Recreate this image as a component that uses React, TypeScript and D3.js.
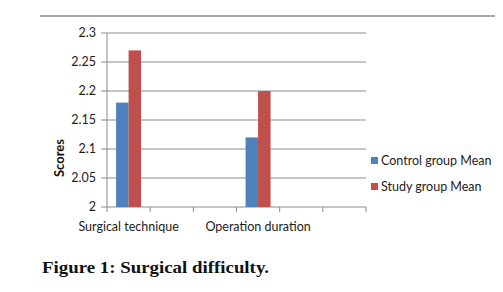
import React from "react";
import * as d3 from "d3";

const categories = ["Surgical technique", "c2", "c3", "Operation duration", "c5", "c6"];
const shownLabels = ["Surgical technique", "Operation duration"];
const seriesNames = ["Control group Mean", "Study group Mean"];
const controlValues = [2.18, null, null, 2.12, null, null];
const studyValues = [2.27, null, null, 2.2, null, null];
const yTicks = [2, 2.05, 2.1, 2.15, 2.2, 2.25, 2.3];
const colors = ["#4F81BD", "#C0504D"];

export default function App() {
  const W = 503, H = 292;
  const left = 107, right = 366, top = 33, bottom = 207;
  const x = d3.scaleBand<string>().domain(categories).range([left, right]).paddingInner(0).paddingOuter(0);
  const y = d3.scaleLinear().domain([2, 2.3]).range([bottom, top]);
  const barW = 12.5;
  const series = [controlValues, studyValues];
  const font = "Lato, 'Open Sans', sans-serif";
  const edges = categories.map((c) => x(c) as number).concat([right]);

  return (
    <svg width={W} height={H} style={{ position: "absolute", left: 0, top: 0, background: "#fff" }}>
      <line x1={40} x2={495} y1={16} y2={16} stroke="#8a8a8a" strokeWidth={1.5} />
      {yTicks.map((t) => (
        <g key={t}>
          <line x1={left} x2={right} y1={y(t)} y2={y(t)} stroke="#8c8c8c" strokeWidth={1} />
          <line x1={left - 6} x2={left} y1={y(t)} y2={y(t)} stroke="#8c8c8c" strokeWidth={1} />
          <text x={96} y={y(t)} dy="0.35em" textAnchor="end" fontFamily={font} fontSize={12.5} fill="#222">
            {d3.format("")(t)}
          </text>
        </g>
      ))}
      <line x1={left} x2={left} y1={top} y2={bottom} stroke="#8c8c8c" strokeWidth={1} />
      {edges.map((e, i) => (
        <line key={i} x1={e} x2={e} y1={bottom} y2={bottom + 5} stroke="#8c8c8c" strokeWidth={1} />
      ))}
      {categories.map((c, ci) =>
        series.map((vals, si) => {
          const v = vals[ci];
          if (v == null) return null;
          const cx = (x(c) as number) + x.bandwidth() / 2;
          const bx = cx - barW + si * barW;
          return (
            <rect key={c + si} x={bx} y={y(v)} width={barW} height={bottom - y(v)} fill={colors[si]} />
          );
        })
      )}
      {shownLabels.map((c) => (
        <text key={c} x={(x(c) as number) + x.bandwidth() / 2} y={231} textAnchor="middle" fontFamily={font} fontSize={12.5} fill="#222">
          {c}
        </text>
      ))}
      <text transform={`translate(64,158) rotate(-90)`} textAnchor="middle" fontFamily={font} fontSize={13} fontWeight="bold" fill="#111">
        Scores
      </text>
      {seriesNames.map((n, i) => (
        <g key={n}>
          <rect x={371} y={157 + i * 26} width={7} height={7} fill={colors[i]} />
          <text x={381} y={161 + i * 26} dy="0.35em" fontFamily={font} fontSize={12.5} fill="#222">
            {n}
          </text>
        </g>
      ))}
      <text x={42} y={273} fontFamily="'Liberation Serif', serif" fontWeight="bold" fontSize={17} fill="#111" textLength={227} lengthAdjust="spacingAndGlyphs">
        Figure 1: Surgical difficulty.
      </text>
    </svg>
  );
}
